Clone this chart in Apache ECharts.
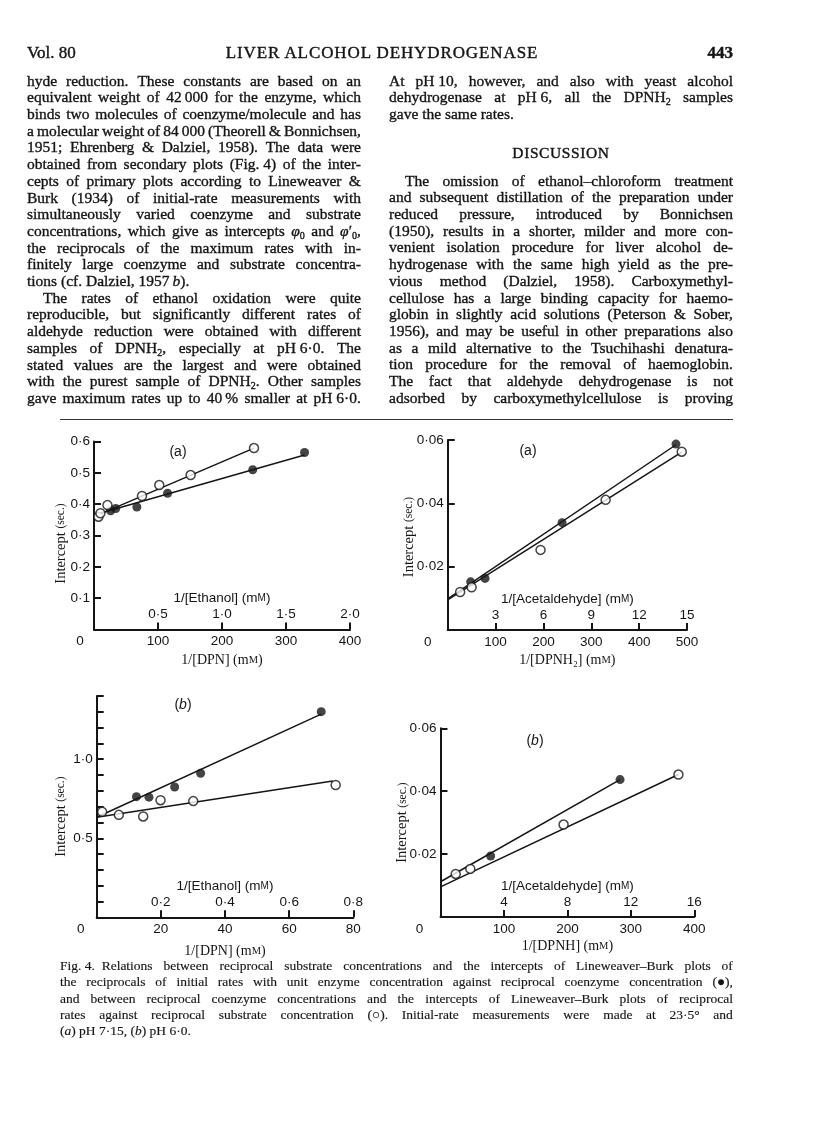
<!DOCTYPE html>
<html><head><meta charset="utf-8">
<script src="https://cdn.jsdelivr.net/npm/echarts@6/dist/echarts.min.js"></script>
<style>
body{margin:0;background:#fff;}
#page{position:relative;width:816px;height:1138px;overflow:hidden;background:#fff;}
#chart{position:absolute;left:0;top:0;width:816px;height:1138px;}
.ln{position:absolute;font-family:'Liberation Serif',serif;color:#151515;white-space:nowrap;-webkit-text-stroke:0.35px #151515;}
.ln.cap{-webkit-text-stroke:0.15px #151515;}
.ln.j{display:flex;justify-content:space-between;}
.ln sub{font-size:65%;vertical-align:-0.25em;line-height:0;}
.hd{position:absolute;font-family:'Liberation Serif',serif;color:#151515;white-space:nowrap;font-size:16.5px;-webkit-text-stroke:0.4px #151515;}
.rule{position:absolute;height:0;border-top:1.3px solid #333;}
</style></head>
<body><div id="page"><div id="chart"></div></div>
<script>
// ---------------- data ----------------
// (a) pH 7.15 — left: 1/[DPN] (mM) bottom, 1/[Ethanol] (mM) top
const p1Filled = [[26,0.379],[34,0.386],[67,0.391],[115,0.435],[248,0.510],[329,0.565]];
const p1Open   = [[7,0.360],[10,0.371],[21,0.397],[75,0.426],[102,0.461],[151,0.493],[250,0.579]];
const p1FilledFit = [[8,0.370],[329,0.557]];
const p1OpenFit   = [[2,0.362],[250,0.579]];
const p1XTicks = [0,100,200,300,400];
const p1TopTicks = [0,0.5,1.0,1.5,2.0];
const p1YTicks = [0,0.1,0.2,0.3,0.4,0.5,0.6];

// (a) pH 7.15 — right: 1/[DPNH2] (mM) bottom, 1/[Acetaldehyde] (mM) top
const p2Filled = [[48,0.0152],[78,0.0163],[239,0.0339],[477,0.0587]];
const p2Open   = [[26,0.0120],[50,0.0135],[194,0.0253],[330,0.0411],[489,0.0563]];
const p2FilledFit = [[0,0.0098],[477,0.0585]];
const p2OpenFit   = [[0,0.0095],[489,0.0562]];
const p2XTicks = [0,100,200,300,400,500];
const p2TopTicks = [0,3,6,9,12,15];
const p2YTicks = [0,0.02,0.04,0.06];

// (b) pH 6.0 — left
const p3Filled = [[12.4,0.763],[16.3,0.760],[24.3,0.824],[32.4,0.911],[70,1.301]];
const p3Open   = [[1.7,0.667],[6.9,0.648],[14.5,0.638],[19.9,0.741],[30.1,0.735],[74.5,0.837]];
const p3FilledFit = [[0,0.633],[70,1.285]];
const p3OpenFit   = [[0,0.633],[73.6,0.862]];
const p3XTicks = [0,20,40,60,80];
const p3TopTicks = [0,0.2,0.4,0.6,0.8];
const p3YTicks = [0,0.1,0.2,0.3,0.4,0.5,0.6,0.7,0.8,0.9,1.0,1.1,1.2,1.3,1.4];
const p3YLabelled = [0.5,1.0];

// (b) pH 6.0 — right
const p4Filled = [[79,0.0194],[283,0.0437]];
const p4Open   = [[24,0.0137],[47,0.0153],[194,0.0294],[375,0.0453]];
const p4FilledFit = [[0,0.0112],[283,0.0437]];
const p4OpenFit   = [[0,0.0096],[375,0.0453]];
const p4XTicks = [0,100,200,300,400];
const p4TopTicks = [0,4,8,12,16];
const p4YTicks = [0,0.02,0.04,0.06];

// ---------------- page text ----------------
const headerLeft = 'Vol. 80';
const headerMid = 'LIVER ALCOHOL DEHYDROGENASE';
const headerRight = '443';
const leftCol = [
 ['hyde reduction. These constants are based on an','j'],
 ['equivalent weight of 42\u2009000 for the enzyme, which','j'],
 ['binds two molecules of coenzyme/molecule and has','j'],
 ['a molecular weight of 84\u2009000 (Theorell &amp; Bonnichsen,','j'],
 ['1951; Ehrenberg &amp; Dalziel, 1958). The data were','j'],
 ['obtained from secondary plots (Fig.\u00a04) of the inter-','j'],
 ['cepts of primary plots according to Lineweaver &amp;','j'],
 ['Burk (1934) of initial-rate measurements with','j'],
 ['simultaneously varied coenzyme and substrate','j'],
 ['concentrations, which give as intercepts <i>φ</i><sub>0</sub> and <i>φ</i>′<sub>0</sub>,','j'],
 ['the reciprocals of the maximum rates with in-','j'],
 ['finitely large coenzyme and substrate concentra-','j'],
 ['tions (cf. Dalziel, 1957\u2009<i>b</i>).','l'],
 ['The rates of ethanol oxidation were quite','ji'],
 ['reproducible, but significantly different rates of','j'],
 ['aldehyde reduction were obtained with different','j'],
 ['samples of DPNH<sub>2</sub>, especially at pH\u00a06·0. The','j'],
 ['stated values are the largest and were obtained','j'],
 ['with the purest sample of DPNH<sub>2</sub>. Other samples','j'],
 ['gave maximum rates up to 40\u2009% smaller at pH\u00a06·0.','j']
];
const rightTop = [
 ['At pH\u00a010, however, and also with yeast alcohol','j'],
 ['dehydrogenase at pH\u00a06, all the DPNH<sub>2</sub> samples','j'],
 ['gave the same rates.','l']
];
const discussionHeading = 'DISCUSSION';
const rightBottom = [
 ['The omission of ethanol–chloroform treatment','ji'],
 ['and subsequent distillation of the preparation under','j'],
 ['reduced pressure, introduced by Bonnichsen','j'],
 ['(1950), results in a shorter, milder and more con-','j'],
 ['venient isolation procedure for liver alcohol de-','j'],
 ['hydrogenase with the same high yield as the pre-','j'],
 ['vious method (Dalziel, 1958). Carboxymethyl-','j'],
 ['cellulose has a large binding capacity for haemo-','j'],
 ['globin in slightly acid solutions (Peterson &amp; Sober,','j'],
 ['1956), and may be useful in other preparations also','j'],
 ['as a mild alternative to the Tsuchihashi denatura-','j'],
 ['tion procedure for the removal of haemoglobin.','j'],
 ['The fact that aldehyde dehydrogenase is not','j'],
 ['adsorbed by carboxymethylcellulose is proving','j']
];
const caption = [
 ['Fig.\u00a04.\u2002Relations between reciprocal substrate concentrations and the intercepts of Lineweaver–Burk plots of','j'],
 ['the reciprocals of initial rates with unit enzyme concentration against reciprocal coenzyme concentration (●),','j'],
 ['and between reciprocal coenzyme concentrations and the intercepts of Lineweaver–Burk plots of reciprocal','j'],
 ['rates against reciprocal substrate concentration (○). Initial-rate measurements were made at 23·5° and','j'],
 ['(<i>a</i>) pH\u00a07·15, (<i>b</i>) pH\u00a06·0.','l']
];

// ---------------- build HTML text ----------------
const page = document.getElementById('page');
function addLine(html, mode, left, width, top, size, lh, cls){
  const d = document.createElement('div');
  const ind = mode.indexOf('i')>=0 ? 16 : 0;
  d.className = 'ln' + (mode[0]==='j' ? ' j' : '') + (cls ? ' '+cls : '');
  d.style.left = (left+ind)+'px'; d.style.width=(width-ind)+'px';
  d.style.top = (top - lh/2)+'px'; d.style.height = lh+'px'; d.style.lineHeight = lh+'px';
  d.style.fontSize = size+'px';
  if (mode[0]==='j') d.innerHTML = html.split(' ').map(w=>'<span>'+w+'</span>').join('');
  else d.innerHTML = html;
  page.appendChild(d);
}
function addHd(text, left, top, align, extra){
  const d = document.createElement('div'); d.className='hd';
  d.textContent = text; d.style.top=(top-10)+'px'; d.style.lineHeight='20px';
  if (align==='right'){ d.style.right=(816-left)+'px'; } else if (align==='center'){ d.style.left=(left-200)+'px'; d.style.width='400px'; d.style.textAlign='center'; } else d.style.left=left+'px';
  if (extra) Object.assign(d.style, extra);
  page.appendChild(d);
}
addHd(headerLeft, 27, 53, 'left', {fontSize:'17px'});
addHd(headerMid, 382, 53, 'center', {fontSize:'17px', letterSpacing:'0.9px'});
addHd(headerRight, 733, 53, 'right', {fontSize:'17px', fontWeight:'bold'});
const LH = 16.7;
leftCol.forEach((l,i)=>addLine(l[0], l[1], 27, 334, 81+i*LH, 15.5, LH));
rightTop.forEach((l,i)=>addLine(l[0], l[1], 389, 344, 81+i*LH, 15.5, LH));
addHd(discussionHeading, 561, 153, 'center', {fontSize:'15.5px', letterSpacing:'0.6px'});
rightBottom.forEach((l,i)=>addLine(l[0], l[1], 389, 344, 181+i*LH, 15.5, LH));
caption.forEach((l,i)=>addLine(l[0], l[1], 60, 673, 966+i*16.3, 13.5, 16, 'cap'));
const rule = document.createElement('div'); rule.className='rule';
rule.style.left='60px'; rule.style.width='673px'; rule.style.top='418.5px'; page.appendChild(rule);

// ---------------- chart ----------------
const INK = '#151515';
const SANS = 'Liberation Sans';
const SERIF = 'Liberation Serif';
const chart = echarts.init(document.getElementById('chart'), null, {renderer:'canvas'});
const dec = n => v => Math.abs(v) < 1e-9 ? '' : v.toFixed(n).replace('.', '·');
const step = a => +(a[1]-a[0]).toFixed(6);

const panels = [
  {grid:{left:94, top:441.5, width:256, height:188}, x:p1XTicks, top:p1TopTicks, topDec:1, y:p1YTicks, yFmt:dec(1),
   xName:'1/[DPN] (m{sc|M})', topName:'1/[Ethanol] (m{sc|M})', yGap:33, yShift:16, oPad:28, xGap:31,
   filled:p1Filled, open:p1Open, filledFit:p1FilledFit, openFit:p1OpenFit, tag:'(a)', tagPos:[178,452]},
  {grid:{left:447.7, top:440, width:239.3, height:190}, x:p2XTicks, top:p2TopTicks, topDec:0, y:p2YTicks, yFmt:dec(2),
   xName:'1/[DPNH₂] (m{sc|M})', topName:'1/[Acetaldehyde] (m{sc|M})', yGap:39, yShift:4, oPad:40, xGap:30,
   filled:p2Filled, open:p2Open, filledFit:p2FilledFit, openFit:p2OpenFit, tag:'(a)', tagPos:[528,451]},
  {grid:{left:96.7, top:696, width:256.6, height:221.3}, x:p3XTicks, top:p3TopTicks, topDec:1, y:p3YTicks,
   yFmt: v => p3YLabelled.some(t=>Math.abs(t-v)<1e-6) ? v.toFixed(1).replace('.','·') : '',
   xName:'1/[DPN] (m{sc|M})', topName:'1/[Ethanol] (m{sc|M})', yGap:36, yShift:20, oPad:32, xGap:34,
   filled:p3Filled, open:p3Open, filledFit:p3FilledFit, openFit:p3OpenFit, tag:'({it|b})', tagPos:[183,705]},
  {grid:{left:440.5, top:728.3, width:253.8, height:188.7}, x:p4XTicks, top:p4TopTicks, topDec:0, y:p4YTicks, yFmt:dec(2),
   xName:'1/[DPNH] (m{sc|M})', topName:'1/[Acetaldehyde] (m{sc|M})', yGap:38, yShift:0, oPad:42, xGap:29,
   filled:p4Filled, open:p4Open, filledFit:p4FilledFit, openFit:p4OpenFit, tag:'({it|b})', tagPos:[535,741]}
];

const grids=[], xAxes=[], yAxes=[], series=[], graphics=[];
const lineSty = {color:INK, width:2};
panels.forEach((p,i)=>{
  grids.push(Object.assign({outerBoundsMode:'none', containLabel:false}, p.grid));
  xAxes.push({
    gridIndex:i, type:'value', position:'bottom', min:p.x[0], max:p.x[p.x.length-1], interval:step(p.x),
    axisLine:{show:true, onZero:false, lineStyle:lineSty},
    axisTick:{show:true, inside:true, length:7, lineStyle:lineSty},
    splitLine:{show:false}, showMinLabel:true, showMaxLabel:true,
    axisLabel:{margin:5, color:INK, fontFamily:SANS, fontSize:13.5,
      formatter: v => v===0 ? '{o|0}' : String(v),
      rich:{o:{padding:[0,p.oPad,0,0], color:INK, fontFamily:SANS, fontSize:13.5}}},
    name:p.xName, nameLocation:'middle', nameGap:p.xGap, nameMoveOverlap:false,
    nameTextStyle:{color:INK, fontFamily:SERIF, fontSize:14, verticalAlign:'middle',
      rich:{sc:{fontFamily:SERIF, fontSize:10.5, color:INK}}}
  });
  xAxes.push({
    gridIndex:i, type:'value', position:'bottom', min:p.top[0], max:p.top[p.top.length-1], interval:step(p.top),
    axisLine:{show:false}, axisTick:{show:false}, splitLine:{show:false},
    showMinLabel:false, showMaxLabel:true,
    axisLabel:{inside:true, margin:8, color:INK, fontFamily:SANS, fontSize:13.5,
      formatter: v => v===0 ? '' : v.toFixed(p.topDec).replace('.', '·')},
    name:p.topName, nameLocation:'middle', nameGap:-31, nameMoveOverlap:false,
    nameTextStyle:{color:INK, fontFamily:SANS, fontSize:13.5, verticalAlign:'middle',
      rich:{sc:{fontFamily:SANS, fontSize:10, color:INK}}}
  });
  yAxes.push({
    gridIndex:i, type:'value', min:p.y[0], max:p.y[p.y.length-1], interval:step(p.y),
    axisLine:{show:true, onZero:false, lineStyle:lineSty},
    axisTick:{show:true, inside:true, length:7, lineStyle:lineSty},
    splitLine:{show:false}, showMinLabel:true, showMaxLabel:true,
    axisLabel:{margin:4, color:INK, fontFamily:SANS, fontSize:13.5, formatter:p.yFmt},
    name:'Intercept {s|(sec.)}', nameLocation:'middle', nameGap:p.yGap, nameRotate:90, nameMoveOverlap:false,
    nameTextStyle:{color:INK, fontFamily:SERIF, fontSize:14.5, verticalAlign:'middle', padding:[0,p.yShift,0,0],
      rich:{s:{fontFamily:SERIF, fontSize:11.5, color:INK}}}
  });
  const xi = 2*i;
  series.push({type:'line', xAxisIndex:xi, yAxisIndex:i, data:p.filledFit, symbol:'none', silent:true, z:2,
    lineStyle:{color:INK, width:1.5}});
  series.push({type:'line', xAxisIndex:xi, yAxisIndex:i, data:p.openFit, symbol:'none', silent:true, z:2,
    lineStyle:{color:INK, width:1.5}});
  series.push({type:'scatter', xAxisIndex:xi, yAxisIndex:i, data:p.filled, symbol:'circle', symbolSize:9, z:4,
    itemStyle:{color:INK}});
  series.push({type:'scatter', xAxisIndex:xi, yAxisIndex:i, data:p.open, symbol:'circle', symbolSize:9, z:4,
    itemStyle:{color:'#fff', borderColor:INK, borderWidth:1.5}});
  graphics.push({type:'text', x:p.tagPos[0], y:p.tagPos[1], z:10,
    style:{text:p.tag, fill:INK, font:'14px '+SANS, align:'center', verticalAlign:'middle',
      rich:{it:{fontStyle:'italic', fontFamily:SANS, fontSize:14, fill:INK}}}});
});

chart.setOption({
  animation:false, backgroundColor:'transparent',
  grid:grids, xAxis:xAxes, yAxis:yAxes, series:series, graphic:graphics
});
</script></body></html>
